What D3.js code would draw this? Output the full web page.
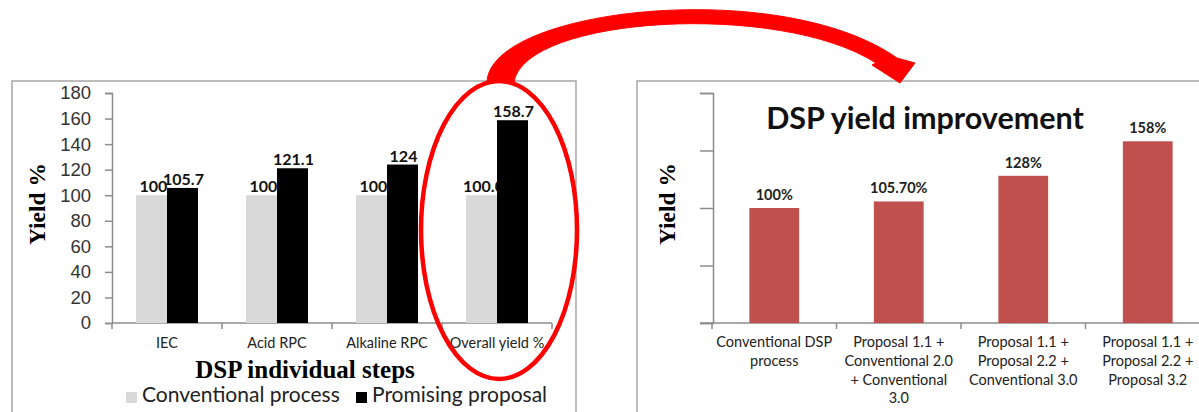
<!DOCTYPE html>
<html>
<head>
<meta charset="utf-8">
<script src="https://cdn.jsdelivr.net/npm/d3@7"></script>
<style>
  html, body { margin: 0; padding: 0; background: #fff; }
  svg { display: block; }
</style>
</head>
<body>
<svg id="chart" width="1199" height="412"></svg>
<script>
// ---- Left panel: individual DSP steps ----
const stepCategories = ["IEC", "Acid RPC", "Alkaline RPC", "Overall yield %"];
const seriesNames = ["Conventional process", "Promising proposal"];
const conventionalValues = [100, 100, 100, 100.0];
const proposalValues = [105.7, 121.1, 124, 158.7];
const conventionalLabels = ["100", "100", "100", "100.0"];
const proposalLabels = ["105.7", "121.1", "124", "158.7"];
const leftTicks = [0, 20, 40, 60, 80, 100, 120, 140, 160, 180];

// ---- Right panel: cumulative yield improvement ----
const routeCategories = [
  ["Conventional DSP", "process"],
  ["Proposal 1.1 +", "Conventional 2.0", "+ Conventional", "3.0"],
  ["Proposal 1.1 +", "Proposal 2.2 +", "Conventional 3.0"],
  ["Proposal 1.1 +", "Proposal 2.2 +", "Proposal 3.2"]
];
const routeValues = [100, 105.7, 128, 158];
const routeLabels = ["100%", "105.70%", "128%", "158%"];
const rightTicks = [0, 50, 100, 150, 200];

const svg = d3.select("#chart");
const axisColor = "#8c8c8c";
const frameColor = "#a6a6a6";
const sans = "Lato, 'Open Sans', sans-serif";
const serif = "'Liberation Serif', 'DejaVu Serif', serif";

// Panel frames
svg.append("rect").attr("x", 12).attr("y", 81).attr("width", 564).attr("height", 340)
  .attr("fill", "none").attr("stroke", frameColor).attr("stroke-width", 1.5);
svg.append("rect").attr("x", 637).attr("y", 81).attr("width", 600).attr("height", 340)
  .attr("fill", "none").attr("stroke", frameColor).attr("stroke-width", 1.5);

// ================= LEFT CHART =================
const L = svg.append("g");
const yL = d3.scaleLinear().domain([0, 180]).range([323, 93]);
const xL = d3.scaleBand().domain(stepCategories).range([112, 552]);
const xLs = d3.scaleBand().domain(seriesNames).range([0, xL.bandwidth()]).paddingOuter(0.774);

// y axis
const yAxisL = d3.axisLeft(yL).tickValues(leftTicks).tickSize(7).tickPadding(14);
const gyL = L.append("g").attr("transform", "translate(112,0)").call(yAxisL);
gyL.select(".domain").attr("stroke", axisColor).attr("stroke-width", 1.5);
gyL.selectAll(".tick line").attr("stroke", axisColor).attr("stroke-width", 1.5);
gyL.selectAll(".tick text").attr("font-family", "'Liberation Sans', Arial, sans-serif")
  .attr("font-size", 18.5).attr("fill", "#333");

// x axis: boundary ticks between categories
L.append("line").attr("x1", 112).attr("x2", 552).attr("y1", 323).attr("y2", 323)
  .attr("stroke", axisColor).attr("stroke-width", 1.5);
const boundariesL = stepCategories.map(c => xL(c)).concat([xL.range()[1]]);
L.selectAll(".xtick").data(boundariesL).join("line")
  .attr("x1", d => d).attr("x2", d => d).attr("y1", 323).attr("y2", 329)
  .attr("stroke", axisColor).attr("stroke-width", 1.5);
L.selectAll(".xlab").data(stepCategories).join("text")
  .attr("x", d => xL(d) + xL.bandwidth() / 2).attr("y", 348)
  .attr("text-anchor", "middle").attr("font-family", sans).attr("font-size", 14.5)
  .attr("fill", "#222").text(d => d);

// Conventional bars and their labels (the proposal bars sit on top)
L.selectAll(".conv").data(conventionalValues).join("rect")
  .attr("x", (d, i) => xL(stepCategories[i]) + xLs(seriesNames[0]))
  .attr("y", d => yL(d)).attr("width", xLs.bandwidth())
  .attr("height", d => yL(0) - yL(d)).attr("fill", "#d9d9d9");
L.selectAll(".convlab").data(conventionalValues).join("text")
  .attr("x", (d, i) => xL(stepCategories[i]) + xLs(seriesNames[0]) + xLs.bandwidth() / 2 + 2)
  .attr("y", d => yL(d) - 3).attr("text-anchor", "middle")
  .attr("font-family", sans).attr("font-weight", "bold").attr("font-size", 16)
  .attr("fill", "#111").text((d, i) => conventionalLabels[i]);
L.selectAll(".prop").data(proposalValues).join("rect")
  .attr("x", (d, i) => xL(stepCategories[i]) + xLs(seriesNames[1]))
  .attr("y", d => yL(d)).attr("width", xLs.bandwidth())
  .attr("height", d => yL(0) - yL(d)).attr("fill", "#000");
L.selectAll(".proplab").data(proposalValues).join("text")
  .attr("x", (d, i) => xL(stepCategories[i]) + xLs(seriesNames[1]) + xLs.bandwidth() / 2 + 1)
  .attr("y", d => yL(d) - 3).attr("text-anchor", "middle")
  .attr("font-family", sans).attr("font-weight", "bold").attr("font-size", 16)
  .attr("fill", "#111").text((d, i) => proposalLabels[i]);

// Axis titles
L.append("text").attr("transform", "translate(45,204) rotate(-90)")
  .attr("text-anchor", "middle").attr("font-family", serif).attr("font-weight", "bold")
  .attr("font-size", 23.5).text("Yield %");
L.append("text").attr("x", 305).attr("y", 378).attr("text-anchor", "middle")
  .attr("font-family", serif).attr("font-weight", "bold").attr("font-size", 25)
  .text("DSP individual steps");

// Legend
const legendItems = [
  { name: seriesNames[0], color: "#d9d9d9", x: 126 },
  { name: seriesNames[1], color: "#000", x: 356 }
];
const lg = L.selectAll(".leg").data(legendItems).join("g");
lg.append("rect").attr("x", d => d.x).attr("y", 392).attr("width", 11).attr("height", 11)
  .attr("fill", d => d.color);
lg.append("text").attr("x", d => d.x + 16).attr("y", 402)
  .attr("font-family", sans).attr("font-size", 21).attr("fill", "#222").text(d => d.name);

// ================= RIGHT CHART =================
const R = svg.append("g");
const yR = d3.scaleLinear().domain([0, 200]).range([323, 93]);
const xR = d3.scaleBand().domain(d3.range(routeCategories.length)).range([712, 1210])
  .paddingInner(0.6).paddingOuter(0.3);

const yAxisR = d3.axisLeft(yR).tickValues(rightTicks).tickSize(13).tickFormat("");
const gyR = R.append("g").attr("transform", "translate(713,0)").call(yAxisR);
gyR.select(".domain").attr("stroke", axisColor).attr("stroke-width", 1.5);
gyR.selectAll(".tick line").attr("stroke", axisColor).attr("stroke-width", 1.5);

R.append("line").attr("x1", 700).attr("x2", 1210).attr("y1", 323).attr("y2", 323)
  .attr("stroke", axisColor).attr("stroke-width", 1.5);
const stepR = xR.step();
const boundariesR = d3.range(routeCategories.length + 1).map(i => 712 + i * stepR);
R.selectAll(".xtick").data(boundariesR).join("line")
  .attr("x1", d => d).attr("x2", d => d).attr("y1", 323).attr("y2", 329)
  .attr("stroke", axisColor).attr("stroke-width", 1.5);

R.selectAll(".bar").data(routeValues).join("rect")
  .attr("x", (d, i) => xR(i)).attr("y", d => yR(d)).attr("width", xR.bandwidth())
  .attr("height", d => yR(0) - yR(d)).attr("fill", "#c0504d");
R.selectAll(".barlab").data(routeValues).join("text")
  .attr("x", (d, i) => xR(i) + xR.bandwidth() / 2).attr("y", d => yR(d) - 8)
  .attr("text-anchor", "middle").attr("font-family", sans).attr("font-weight", "bold")
  .attr("font-size", 14.5).attr("fill", "#222").text((d, i) => routeLabels[i]);

const catText = R.selectAll(".xlab").data(routeCategories).join("text")
  .attr("text-anchor", "middle").attr("font-family", sans).attr("font-size", 14.5)
  .attr("fill", "#222");
catText.selectAll("tspan").data((d, i) => d.map(line => ({ line, i }))).join("tspan")
  .attr("x", d => xR(d.i) + xR.bandwidth() / 2)
  .attr("y", (d, j) => 347 + j * 18.8).text(d => d.line);

R.append("text").attr("x", 925).attr("y", 129).attr("text-anchor", "middle")
  .attr("font-family", sans).attr("font-weight", "bold").attr("font-size", 30.5)
  .attr("fill", "#111").text("DSP yield improvement");
R.append("text").attr("transform", "translate(675,204) rotate(-90)")
  .attr("text-anchor", "middle").attr("font-family", serif).attr("font-weight", "bold")
  .attr("font-size", 23.5).text("Yield %");

// ================= Highlight and connecting arrow =================
svg.append("ellipse").attr("cx", 499).attr("cy", 230).attr("rx", 78).attr("ry", 149)
  .attr("fill", "none").attr("stroke", "#ff0000").attr("stroke-width", 4.5);

svg.append("path")
  .attr("d", "M487,82 C490,8 780,-24 897,58 L915,63 L900,83 L872,65 L876,63 C780,1 525,16 514,82 Z")
  .attr("fill", "#ff0000").attr("stroke", "#ff0000").attr("stroke-width", 1)
  .attr("stroke-linejoin", "round");
</script>
</body>
</html>
